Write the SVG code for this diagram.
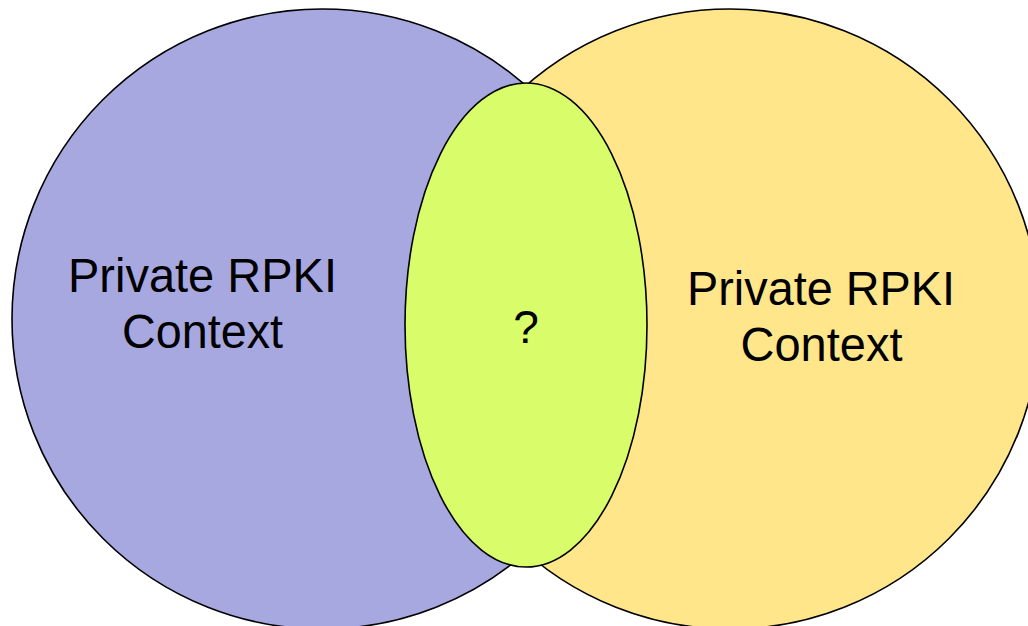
<svg xmlns="http://www.w3.org/2000/svg" width="1028" height="626" viewBox="0 0 1028 626">
  <style>
    .set { stroke: #000; stroke-width: 1.6; }
    .label { font-family: "Liberation Sans", Arial, sans-serif; font-size: 49px; fill: #000; text-anchor: middle; }
  </style>
  <rect width="1028" height="626" fill="#fff"/>
  <g id="context-left">
    <circle class="set" cx="322" cy="319" r="310" fill="#A8A8E0"/>
    <text class="label" x="202.5" y="292" textLength="269" lengthAdjust="spacingAndGlyphs">Private RPKI</text>
    <text class="label" x="202.5" y="348" textLength="161" lengthAdjust="spacingAndGlyphs">Context</text>
  </g>
  <g id="context-right">
    <circle class="set" cx="730" cy="319" r="310" fill="#FFE68A"/>
    <text class="label" x="821" y="305" textLength="268" lengthAdjust="spacingAndGlyphs">Private RPKI</text>
    <text class="label" x="821.5" y="361" textLength="162" lengthAdjust="spacingAndGlyphs">Context</text>
  </g>
  <g id="overlap">
    <ellipse class="set" cx="526" cy="325" rx="121" ry="242" fill="#D8FC6A"/>
    <text class="label" x="526" y="343" style="font-size:46px">?</text>
  </g>
  <g id="connectors"/>
</svg>
